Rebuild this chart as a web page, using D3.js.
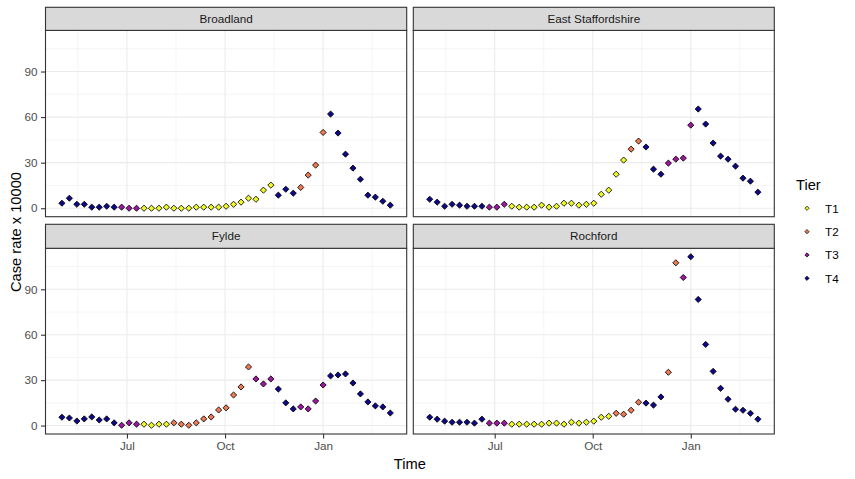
<!DOCTYPE html>
<html><head><meta charset="utf-8">
<script src="https://cdn.jsdelivr.net/npm/d3@7"></script>
<style>
body{margin:0;background:#fff}
svg{display:block;font-family:"Liberation Sans",Arial,sans-serif}
</style>
</head><body>
<svg id="chart" width="855" height="479"></svg>
<script>
// ---------- data ----------
const dates = ["2020-05-01","2020-05-08","2020-05-15","2020-05-22","2020-05-29","2020-06-05","2020-06-12","2020-06-19","2020-06-26",
  "2020-07-03","2020-07-10","2020-07-17","2020-07-24","2020-07-31","2020-08-07","2020-08-14","2020-08-21","2020-08-28",
  "2020-09-04","2020-09-11","2020-09-18","2020-09-25","2020-10-02","2020-10-09","2020-10-16","2020-10-23","2020-10-30",
  "2020-11-06","2020-11-13","2020-11-20","2020-11-27","2020-12-04","2020-12-11","2020-12-18","2020-12-25",
  "2021-01-01","2021-01-08","2021-01-15","2021-01-22","2021-01-29","2021-02-05","2021-02-12","2021-02-19","2021-02-26","2021-03-05"];

const districts = ["Broadland","East Staffordshire","Fylde","Rochford"];

const rateBroadland = [3.3,6.6,2.6,2.6,0.7,0.7,1.3,0.7,0.7,0,0,0,0,0,0.7,0,0,0,0.7,0.7,0.7,0.7,1.3,2.6,4,6.6,5.9,11.9,15.2,
  8.6,12.5,9.9,13.7,21.8,28.4,49.9,62,49.5,35.6,26.4,19.1,8.6,7.3,4.6,2];
const rateEastStaffordshire = [5.9,4,1.3,2.6,2,1.3,1.3,1.3,0.7,0.7,2.6,1.3,0.7,0.7,0.7,2,0.7,1.3,3.3,3.3,2,2.6,3.3,9.2,11.9,
  22.4,31.7,38.9,44.2,40.3,25.7,22.4,29.7,32.3,33,54.7,65.3,55.4,42.9,34.3,32.3,27.7,19.8,17.8,10.6];
const rateFylde = [5.5,5,3,4.4,5.7,3.7,4.4,1.8,0.2,1.8,0.9,0.9,0.2,0.9,0.9,1.8,0.9,0.2,1.8,4.4,5.7,10.3,11.7,20.2,25.5,
  38.7,30.8,27.5,30.8,24.1,15,11,12.3,11,16.2,26.8,32.8,33.4,34.1,28.1,20.9,15.6,13,12.3,8.3];
const rateRochford = [5.5,4.2,2.9,2.2,2.2,2.2,1.6,4.2,1.6,1.6,1.6,0.9,0.9,0.9,0.9,0.9,1.6,1.6,0.9,2.2,1.6,2.2,2.9,5.5,6.1,
  8.1,7.5,10.1,15.4,14.8,13.5,18.9,35.2,107.5,97.8,111.5,83.3,53.6,35.8,24.6,17.4,10.8,10.1,8.1,4.2];

const tierBroadland = ["T4","T4","T4","T4","T4","T4","T4","T4","T3","T3","T3",
  "T1","T1","T1","T1","T1","T1","T1","T1","T1","T1","T1","T1","T1","T1","T1","T1","T1","T1",
  "T4","T4","T4","T2","T2","T2","T2","T4","T4","T4","T4","T4","T4","T4","T4","T4"];
const tierEastStaffordshire = ["T4","T4","T4","T4","T4","T4","T4","T4","T3","T3","T3",
  "T1","T1","T1","T1","T1","T1","T1","T1","T1","T1","T1","T1","T1","T1","T1","T1",
  "T2","T2","T4","T4","T4","T3","T3","T3","T3","T4","T4","T4","T4","T4","T4","T4","T4","T4"];
const tierFylde = ["T4","T4","T4","T4","T4","T4","T4","T4","T3","T3","T3",
  "T1","T1","T1","T1","T2","T2","T2","T2","T2","T2","T2","T2","T2","T2","T2",
  "T3","T3","T3","T4","T4","T4","T3","T3","T3","T3","T4","T4","T4","T4","T4","T4","T4","T4","T4"];
const tierRochford = ["T4","T4","T4","T4","T4","T4","T4","T4","T3","T3","T3",
  "T1","T1","T1","T1","T1","T1","T1","T1","T1","T1","T1","T1","T1","T1",
  "T2","T2","T2","T2","T4","T4","T4","T2","T2","T3","T4","T4","T4","T4","T4","T4","T4","T4","T4","T4"];

const tierLevels = ["T1","T2","T3","T4"];
const tierColors = ["#F0F921","#ED7953","#9C179E","#0D0887"];
const xTickDates = ["2020-07-01","2020-10-01","2021-01-01"];
const xTickLabels = ["Jul","Oct","Jan"];
const yTicks = [0,30,60,90];
const yMinorTicks = [15,45,75,105];

// ---------- build ----------
const parse = d3.utcParse("%Y-%m-%d");
const rates = [rateBroadland, rateEastStaffordshire, rateFylde, rateRochford];
const tiers = [tierBroadland, tierEastStaffordshire, tierFylde, tierRochford];
const rows = [];
districts.forEach((name, k) => {
  dates.forEach((d, i) => rows.push({district:name, date:parse(d), rate:rates[k][i], tier:tiers[k][i]}));
});

const svg = d3.select("#chart");
const color = d3.scaleOrdinal(tierLevels, tierColors);

const colX = [[45.5,406.7],[413.3,774.3]];
const rowY = [{strip:7.3, top:30.4, bottom:216.7},{strip:224.3, top:248.3, bottom:434}];

// domains with 5% expansion
const dExt = d3.extent(rows, r => r.date);
const dPad = (dExt[1]-dExt[0])*0.05;
const xDomain = [new Date(+dExt[0]-dPad), new Date(+dExt[1]+dPad)];
const yExt = d3.extent(rows, r => r.rate);
const yPad = (yExt[1]-yExt[0])*0.05;
const yDomain = [yExt[0]-yPad, yExt[1]+yPad];

const majorDates = xTickDates.map(parse);
const step = (majorDates[1]-majorDates[0]);
const minorDates = [new Date(+majorDates[0]-step/2)];
for (let i=0;i<majorDates.length-1;i++) minorDates.push(new Date((+majorDates[i]+ +majorDates[i+1])/2));
minorDates.push(new Date(+majorDates[majorDates.length-1]+step/2));

const diamond = d3.symbol(d3.symbolSquare, 19)();
const diamondSmall = d3.symbol(d3.symbolSquare, 9)();

districts.forEach((name, k) => {
  const c = k % 2, r = Math.floor(k/2);
  const [x0,x1] = colX[c];
  const {strip, top, bottom} = rowY[r];
  const x = d3.scaleUtc().domain(xDomain).range([x0,x1]);
  const y = d3.scaleLinear().domain(yDomain).range([bottom, top]);
  const g = svg.append("g");

  // background
  g.append("rect").attr("x",x0).attr("y",top).attr("width",x1-x0).attr("height",bottom-top).attr("fill","#fff");
  // minor grid
  g.selectAll(".vmin").data(minorDates.filter(d => x(d)>x0 && x(d)<x1)).join("line")
    .attr("x1",d=>x(d)).attr("x2",d=>x(d)).attr("y1",top).attr("y2",bottom)
    .attr("stroke","#EBEBEB").attr("stroke-width",0.55);
  g.selectAll(".hmin").data(yMinorTicks.filter(v => y(v)>top && y(v)<bottom)).join("line")
    .attr("x1",x0).attr("x2",x1).attr("y1",d=>y(d)).attr("y2",d=>y(d))
    .attr("stroke","#EBEBEB").attr("stroke-width",0.55);
  // major grid
  g.selectAll(".vmaj").data(majorDates).join("line")
    .attr("x1",d=>x(d)).attr("x2",d=>x(d)).attr("y1",top).attr("y2",bottom)
    .attr("stroke","#EBEBEB").attr("stroke-width",1.1);
  g.selectAll(".hmaj").data(yTicks).join("line")
    .attr("x1",x0).attr("x2",x1).attr("y1",d=>y(d)).attr("y2",d=>y(d))
    .attr("stroke","#EBEBEB").attr("stroke-width",1.1);

  // points
  const pts = rows.filter(d => d.district === name);
  g.selectAll("path.pt").data(pts).join("path").attr("class","pt")
    .attr("d", diamond)
    .attr("transform", d => `translate(${x(d.date)},${y(d.rate)}) rotate(45)`)
    .attr("fill", d => color(d.tier))
    .attr("stroke","#000").attr("stroke-width",0.8);

  // panel border
  g.append("rect").attr("x",x0).attr("y",top).attr("width",x1-x0).attr("height",bottom-top)
    .attr("fill","none").attr("stroke","#333333").attr("stroke-width",1.1);
  // strip
  g.append("rect").attr("x",x0).attr("y",strip).attr("width",x1-x0).attr("height",top-strip)
    .attr("fill","#D9D9D9").attr("stroke","#333333").attr("stroke-width",1.1);
  g.append("text").attr("x",(x0+x1)/2).attr("y",(strip+top)/2+4.1)
    .attr("text-anchor","middle").attr("font-size","11.7px").attr("fill","#1A1A1A").text(name);

  // y axis on left column
  if (c === 0) {
    const ya = d3.axisLeft(y).tickValues(yTicks).tickSize(4.5).tickPadding(3.5);
    const ag = svg.append("g").attr("transform",`translate(${x0},0)`).call(ya);
    ag.select(".domain").remove();
    ag.selectAll(".tick line").attr("stroke","#333333").attr("stroke-width",1.1);
    ag.selectAll(".tick text").attr("fill","#4D4D4D").attr("font-size","11.7px")
      .attr("font-family","Liberation Sans, Arial, sans-serif");
  }
  // x axis on bottom row
  if (r === 1) {
    const xa = d3.axisBottom(x).tickValues(majorDates).tickFormat((d,i)=>xTickLabels[i]).tickSize(4.5).tickPadding(3);
    const ag = svg.append("g").attr("transform",`translate(0,${bottom})`).call(xa);
    ag.select(".domain").remove();
    ag.selectAll(".tick line").attr("stroke","#333333").attr("stroke-width",1.1);
    ag.selectAll(".tick text").attr("fill","#4D4D4D").attr("font-size","11.7px")
      .attr("font-family","Liberation Sans, Arial, sans-serif");
  }
});

// axis titles
svg.append("text").attr("x",(45.5+774.3)/2).attr("y",469).attr("text-anchor","middle")
  .attr("font-size","14.7px").attr("fill","#000").text("Time");
svg.append("text").attr("transform","translate(20.5,232) rotate(-90)").attr("text-anchor","middle")
  .attr("font-size","14.7px").attr("fill","#000").text("Case rate x 10000");

// legend
const lg = svg.append("g");
lg.append("text").attr("x",796).attr("y",189.5).attr("font-size","14.7px").attr("fill","#000").text("Tier");
const ly = d3.scalePoint().domain(tierLevels).range([208.3, 278.3]);
tierLevels.forEach(t => {
  lg.append("path").attr("d",diamondSmall)
    .attr("transform",`translate(807,${ly(t)}) rotate(45)`)
    .attr("fill",color(t)).attr("stroke","#000").attr("stroke-width",0.7);
  lg.append("text").attr("x",825).attr("y",ly(t)+4.2).attr("font-size","11.7px").attr("fill","#000").text(t);
});
</script>
</body></html>
